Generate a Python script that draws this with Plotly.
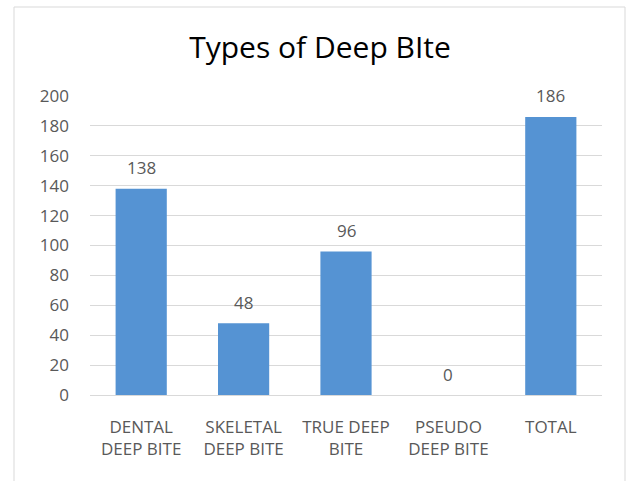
import plotly.graph_objects as go

categories = ["DENTAL<br>DEEP BITE", "SKELETAL<br>DEEP BITE", "TRUE DEEP<br>BITE", "PSEUDO<br>DEEP BITE", "TOTAL"]
values = [138, 48, 96, 0, 186]
y_ticks = [0, 20, 40, 60, 80, 100, 120, 140, 160, 180, 200]

W, H = 630, 481
ml, mr, mt, mb = 90, 28, 96, 86
pw = W - ml - mr
ph = H - mt - mb

def px_x(p):
    return (p - ml) / pw

def px_y(p):
    return (H - mb - p) / ph

label_font = dict(family="Open Sans", size=17, color="#595959")

fig = go.Figure()
fig.add_trace(go.Bar(
    x=categories,
    y=values,
    marker=dict(color="#5593d3", line=dict(width=0)),
    width=0.5,
))

annotations = [
    dict(x=c, y=v, xref="x", yref="y", text=str(v), showarrow=False,
         yanchor="middle", xanchor="center", yshift=21, font=label_font)
    for c, v in zip(categories, values)
]

fig.update_layout(
    width=W, height=H,
    margin=dict(l=ml, r=mr, t=mt, b=mb),
    paper_bgcolor="white",
    plot_bgcolor="white",
    showlegend=False,
    title=dict(
        text="Types of Deep BIte",
        font=dict(family="Open Sans", size=30, color="#000000"),
        x=(320) / W, xanchor="center",
        y=1 - 47 / H, yanchor="middle", yref="container",
    ),
    xaxis=dict(
        showgrid=False,
        showline=False,
        ticks="",
        ticklabelstandoff=20,
        tickfont=label_font,
    ),
    yaxis=dict(
        range=[0, 200],
        tickvals=y_ticks,
        showgrid=True,
        gridcolor="#d9d9d9",
        gridwidth=1,
        zeroline=True,
        zerolinecolor="#d9d9d9",
        zerolinewidth=1,
        showline=False,
        ticks="",
        ticklabelstandoff=20,
        tickfont=label_font,
    ),
    annotations=annotations,
    shapes=[dict(
        type="rect", xref="paper", yref="paper",
        x0=px_x(14), x1=px_x(625), y0=px_y(495), y1=px_y(7),
        line=dict(color="#d9d9d9", width=1),
        fillcolor="rgba(0,0,0,0)",
        layer="below",
    )],
)

fig.write_html("out.html")
